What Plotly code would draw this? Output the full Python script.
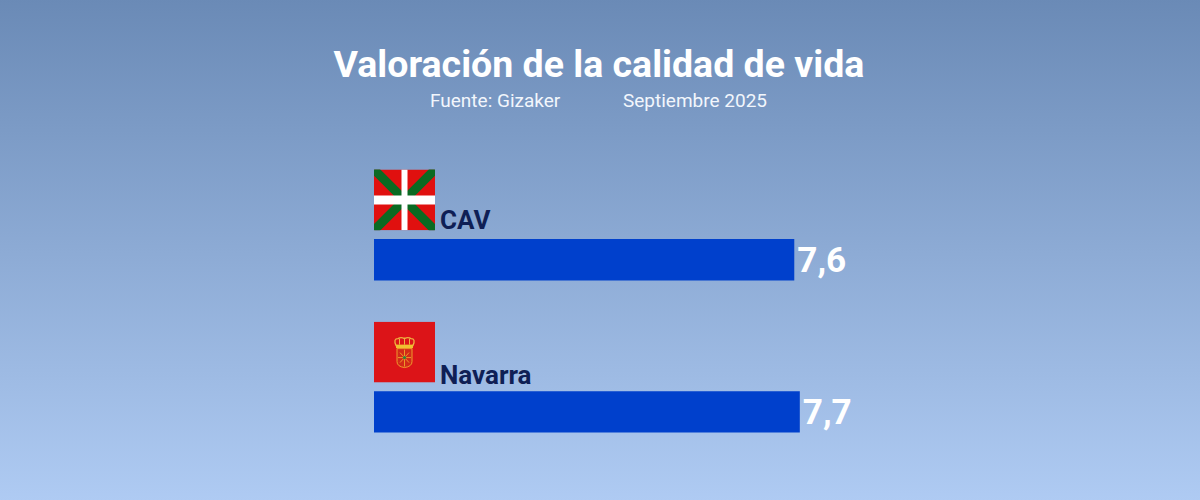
import base64
import plotly.graph_objects as go

# datos
regiones = ['CAV', 'Navarra']
valores = [7.6, 7.7]
etiquetas = ['7,6', '7,7']

titulo = 'Valoración de la calidad de vida'
fuente = 'Fuente: Gizaker'
fecha = 'Septiembre 2025'


def svg_uri(svg):
    return 'data:image/svg+xml;base64,' + base64.b64encode(svg.encode('utf-8')).decode()


fondo = svg_uri(
    '<svg xmlns="http://www.w3.org/2000/svg" width="1200" height="500" preserveAspectRatio="none">'
    '<defs><linearGradient id="g" x1="0" y1="0" x2="0" y2="1">'
    '<stop offset="0" stop-color="#6a8ab6"/><stop offset="1" stop-color="#afcbf3"/>'
    '</linearGradient></defs><rect width="1200" height="500" fill="url(#g)"/></svg>'
)

# ikurriña
flag_cav = svg_uri(
    '<svg xmlns="http://www.w3.org/2000/svg" width="122" height="122" viewBox="0 0 61 61">'
    '<rect width="61" height="61" fill="#e0100f"/>'
    '<path d="M0 0L61 61M61 0L0 61" stroke="#0b6a22" stroke-width="9"/>'
    '<path d="M30.5 0V61" stroke="#ffffff" stroke-width="6"/>'
    '<path d="M0 30.5H61" stroke="#ffffff" stroke-width="9"/></svg>'
)

# bandera de Navarra
flag_nav = svg_uri(
    '<svg xmlns="http://www.w3.org/2000/svg" width="122" height="122" viewBox="0 0 61 61">'
    '<rect width="61" height="61" fill="#dc1418"/>'
    '<path d="M22 24Q19 17 24 17Q27 15 30.500 17Q34 15 37 17Q42 17 39 24Z" fill="#dc1418" stroke="#eeb040" stroke-width="1.300"/>'
    '<path d="M25.500 17V23M30.500 16V23M35.500 17V23" stroke="#eeb040" stroke-width="1"/>'
    '<rect x="22" y="23" width="17" height="3.500" fill="#f0c030"/>'
    '<path d="M23 27H38V40Q38 45 30.500 46Q23 45 23 40Z" fill="#d22a18" stroke="#ef9c2c" stroke-width="1"/>'
    '<path d="M24 36H37M30.500 28V45M26 31L35 41M35 31L26 41" stroke="#f0a52c" stroke-width="0.900"/>'
    '<circle cx="30.500" cy="36" r="1.600" fill="#2f7d3a"/></svg>'
)

flags = [flag_cav, flag_nav]

fig = go.Figure(go.Bar(
    x=valores, y=regiones, orientation='h',
    width=0.272, marker_color='#0040cc', marker_line_width=0,
    text=etiquetas, textposition='outside', cliponaxis=False,
    textfont=dict(family='Roboto', size=36.5, color='white', weight='bold'),
))

# el fondo se pasa unos pixeles del lienzo para que no quede borde
imagenes = [dict(source=fondo, xref='paper', yref='paper', x=-376 / 553, y=1 + 140 / 351,
                 sizex=1204 / 553, sizey=505 / 351, sizing='stretch',
                 xanchor='left', yanchor='top', layer='below')]
for i, f in enumerate(flags):
    imagenes.append(dict(source=f, xref='x', yref='y', x=0, y=i - 0.593,
                         sizex=61 / 55.3, sizey=0.4, sizing='stretch',
                         xanchor='left', yanchor='top', layer='above'))

notas = []
for i, (r, dy) in enumerate(zip(regiones, [-7, -9])):
    notas.append(dict(text=f'<b>{r}</b>', x=0, y=i - 0.193, xref='x', yref='y',
                      xshift=64, xanchor='left', yanchor='bottom', yshift=dy, showarrow=False,
                      font=dict(family='Roboto', size=26, color='#0f1f55')))
for txt, px_x in [(fuente, 428), (fecha, 621)]:
    notas.append(dict(text=txt, x=(px_x - 374) / 553, y=1 + (137.5 - 100) / 351, xref='paper', yref='paper',
                      xanchor='left', yanchor='middle', showarrow=False,
                      font=dict(family='Roboto', size=19, color='#f2f6fc')))

fig.update_layout(
    width=1200, height=500,
    margin=dict(l=374, r=273, t=137.5, b=11.5),
    paper_bgcolor='#8aa8d4', plot_bgcolor='rgba(0,0,0,0)',
    title=dict(text=f'<b>{titulo}</b>', x=599 / 1200, xanchor='center', y=1 - 64 / 500, yanchor='middle',
               font=dict(family='Roboto', size=37.5, color='white')),
    images=imagenes, annotations=notas, showlegend=False,
)
fig.update_xaxes(range=[0, 10], visible=False)
fig.update_yaxes(range=[1.5, -0.8], visible=False)

fig.write_html('out.html', config={'displayModeBar': False},
               post_script="document.body.style.margin='0';document.body.style.overflow='hidden';")
